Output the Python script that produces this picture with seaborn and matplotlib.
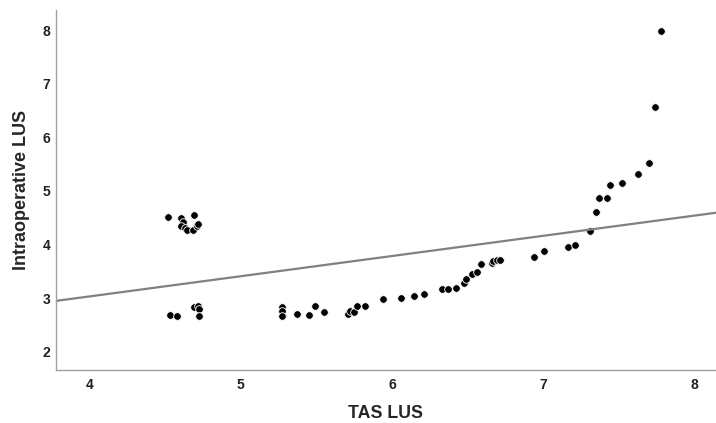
import numpy as np
import pandas as pd
import seaborn as sns
import matplotlib.pyplot as plt

# TAS LUS (x) and Intraoperative LUS (y)
tas_lus = [4.52, 4.605, 4.693, 4.622, 4.605, 4.634, 4.645, 4.684, 4.711, 4.721,
           4.535, 4.583, 4.693, 4.721, 4.726, 4.726,
           5.276, 5.276, 5.272, 5.371, 5.450, 5.492, 5.551, 5.708, 5.723, 5.751,
           5.771, 5.822, 5.939, 6.059, 6.147, 6.209, 6.328, 6.372, 6.420, 6.477,
           6.488, 6.526, 6.559, 6.587, 6.658, 6.669, 6.695, 6.713, 6.937, 7.005,
           7.160, 7.208, 7.307, 7.349, 7.366, 7.417, 7.437, 7.518, 7.626, 7.696,
           7.736, 7.778]
intraop_lus = [4.52, 4.49, 4.56, 4.42, 4.35, 4.30, 4.27, 4.27, 4.35, 4.38,
               2.69, 2.67, 2.84, 2.86, 2.80, 2.67,
               2.844, 2.769, 2.676, 2.702, 2.689, 2.857, 2.739, 2.713, 2.763, 2.739,
               2.862, 2.862, 2.987, 3.000, 3.048, 3.074, 3.168, 3.168, 3.186, 3.290,
               3.359, 3.447, 3.495, 3.639, 3.652, 3.695, 3.713, 3.719, 3.763, 3.886,
               3.950, 3.987, 4.248, 4.613, 4.862, 4.873, 5.104, 5.142, 5.309, 5.525,
               6.568, 7.983]
# reference fit line (as shown in the chart)
fit_intercept = 1.525
fit_slope = 0.377
x_ticks = [4, 5, 6, 7, 8]
y_ticks = [2, 3, 4, 5, 6, 7, 8]

df = pd.DataFrame({"TAS LUS": tas_lus, "Intraoperative LUS": intraop_lus})

sns.set_style("white")
plt.rcParams["font.family"] = ["Liberation Sans", "DejaVu Sans"]

fig = plt.figure(figsize=(7.16, 4.23), dpi=100)
ax = fig.add_axes([0.078, 0.125, 0.922, 0.851])

# points
sns.scatterplot(data=df, x="TAS LUS", y="Intraoperative LUS", ax=ax,
                s=30, color="black", edgecolor="white", linewidth=0.6)
# fit line across the whole plot
ax.axline((0, fit_intercept), slope=fit_slope, color="#808080", linewidth=1.6, zorder=1)

ax.set_xlim(3.78, 8.14)
ax.set_ylim(1.66, 8.37)
ax.set_xticks(x_ticks)
ax.set_yticks(y_ticks)
ax.tick_params(axis="x", length=0, labelsize=10, pad=6)
ax.tick_params(axis="y", length=0, labelsize=10, pad=4)
for lab in ax.get_xticklabels() + ax.get_yticklabels():
    lab.set_fontweight("bold")
    lab.set_color("#222222")

ax.set_xlabel("TAS LUS", fontsize=12.8, fontweight="bold", labelpad=9)
ax.set_ylabel("Intraoperative LUS", fontsize=13, fontweight="bold", labelpad=9)

for side in ["top", "right"]:
    ax.spines[side].set_visible(False)
for side in ["left", "bottom"]:
    ax.spines[side].set_color("#a0a0a0")
    ax.spines[side].set_linewidth(1.0)

fig.savefig("out.png", dpi=100)
